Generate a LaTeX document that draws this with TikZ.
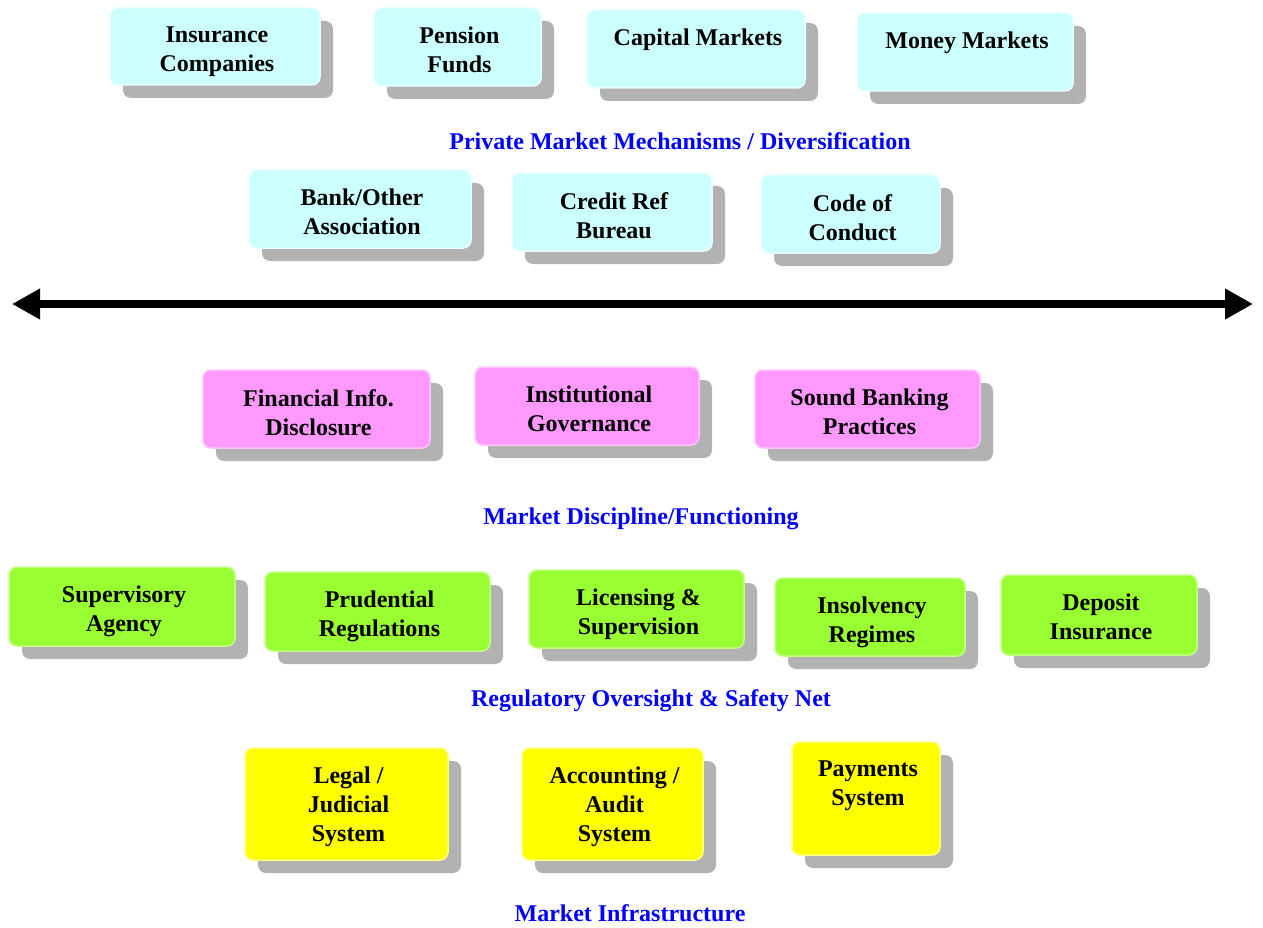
\documentclass[tikz,border=0pt]{standalone}
\usepackage{fontspec}
\setmainfont{Liberation Serif}
\usetikzlibrary{arrows.meta}

\definecolor{cyanfill}{HTML}{CCFFFF}
\definecolor{cyanline}{HTML}{E6FFFF}
\definecolor{pinkfill}{HTML}{FF99FF}
\definecolor{pinkline}{HTML}{FFC2FF}
\definecolor{greenfill}{HTML}{99FF33}
\definecolor{greenline}{HTML}{C2FF85}
\definecolor{yellowfill}{HTML}{FFFF00}
\definecolor{yellowline}{HTML}{FFFF80}
\definecolor{shadowgray}{HTML}{B2B2B2}
\definecolor{captionblue}{HTML}{0000FF}

\tikzset{
  panel/.style={rounded corners=8pt, line width=1.5pt, inner sep=0pt, outer sep=0pt},
  panelshadow/.style={fill=shadowgray, rounded corners=8pt},
  paneltext/.style={align=center, inner sep=0pt, font=\fontsize{24}{29}\selectfont\bfseries},
  caption/.style={inner sep=0pt, text=captionblue, font=\fontsize{24}{29}\selectfont\bfseries},
  bigarrow/.style={line width=8pt, {Triangle[length=28pt,width=29pt]}-{Triangle[length=28pt,width=29pt]}}
}

% \panel{name}{colour}{left}{top}{right}{bottom}{text}
\newcommand\panel[7]{%
  \pgfmathsetmacro\pw{#5-#3}%
  \pgfmathsetmacro\ph{#6-#4}%
  \fill[panelshadow] (#3+13,#4+13) rectangle (#5+13,#6+13);
  \node[panel, fill=#2fill, draw=#2line, minimum width=\pw pt, minimum height=\ph pt]
    (#1) at ({(#3+#5)/2},{(#4+#6)/2}) {};
  \node[paneltext, anchor=north] (#1-t) at ({(#3+#5)/2+2},#4+19) {#7};
}

\begin{document}
\begin{tikzpicture}[x=1pt, y=-1pt]
  \useasboundingbox (0,0) rectangle (1263,928);

  % private market mechanisms
  \panel{ins}{cyan}{110}{8}{320}{85}{Insurance\\Companies}
  \panel{pen}{cyan}{374}{8}{541}{86}{Pension\\Funds}
  \panel{cap}{cyan}{587}{10}{805}{88}{Capital Markets}
  \panel{mon}{cyan}{857}{13}{1073}{91}{Money Markets}
  \node[caption] (privcap) at (680,141) {Private Market Mechanisms / Diversification};
  \panel{bank}{cyan}{249}{170}{471}{248}{Bank/Other\\Association}
  \panel{cred}{cyan}{512}{173}{712}{251}{Credit Ref\\Bureau}
  \panel{code}{cyan}{761}{175}{940}{253}{Code of\\Conduct}

  % double-headed divider
  \coordinate (arrowL) at (12,304);
  \coordinate (arrowR) at (1253,304);
  \draw[bigarrow] (arrowL) -- (arrowR);

  % market discipline
  \panel{fin}{pink}{203}{370}{430}{448}{Financial Info.\\Disclosure}
  \panel{gov}{pink}{475}{367}{699}{445}{Institutional\\Governance}
  \panel{sound}{pink}{755}{370}{980}{448}{Sound Banking\\Practices}
  \node[caption] (disccap) at (641,519) {Market Discipline/Functioning};

  % regulatory oversight
  \panel{sup}{green}{9}{567}{235}{646}{Supervisory\\Agency}
  \panel{prud}{green}{265}{572}{490}{651}{Prudential\\Regulations}
  \panel{lic}{green}{529}{570}{744}{648}{Licensing \&\\Supervision}
  \panel{insol}{green}{775}{578}{965}{656}{Insolvency\\Regimes}
  \panel{dep}{green}{1001}{575}{1197}{655}{Deposit\\Insurance}
  \node[caption] (regcap) at (651,701) {Regulatory Oversight \& Safety Net};

  % infrastructure
  \panel{legal}{yellow}{245}{748}{448}{860}{Legal /\\Judicial\\System}
  \panel{acc}{yellow}{522}{748}{703}{860}{Accounting /\\Audit\\System}
  \panel{pay}{yellow}{792}{742}{940}{855}{Payments\\System}
  \node[caption] (infcap) at (630,913) {Market Infrastructure};
\end{tikzpicture}
\end{document}
